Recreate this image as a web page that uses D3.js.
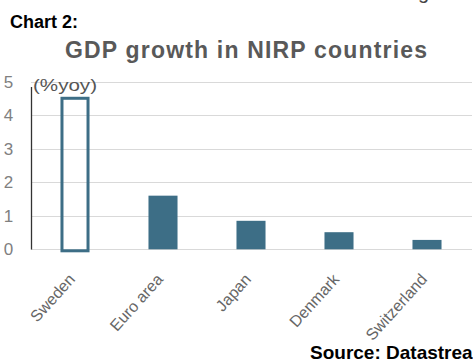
<!DOCTYPE html>
<html>
<head>
<meta charset="utf-8">
<script src="https://cdn.jsdelivr.net/npm/d3@7"></script>
<style>
  body { margin: 0; background: #fff; }
  svg { display: block; font-family: "Liberation Sans", Arial, sans-serif; }
</style>
</head>
<body>
<div id="chart"></div>
<script>

var countries = ["Sweden", "Euro area", "Japan", "Denmark", "Switzerland"];
var growth = [4.55, 1.6, 0.85, 0.51, 0.28];
var outlined = [true, false, false, false, false];
var yTicks = [0, 1, 2, 3, 4, 5];

var width = 473, height = 361;
var barColor = "#3d6e86";

var svg = d3.select("#chart").append("svg")
  .attr("width", width)
  .attr("height", height);

var x = d3.scaleBand()
  .domain(countries)
  .range([31, 471])
  .paddingInner(0.67)
  .paddingOuter(0.335);

var y = d3.scaleLinear()
  .domain([0, 5])
  .range([249.3, 81.7]);

// bits of page around the chart
svg.append("text")
  .attr("x", 418).attr("y", -1.5)
  .style("font-size", "20px")
  .attr("fill", "#444")
  .text("g");

svg.append("text")
  .attr("x", 10).attr("y", 27.5)
  .style("font-size", "18px")
  .style("font-weight", "bold")
  .attr("fill", "#000")
  .text("Chart 2:");

svg.append("text")
  .attr("x", 65).attr("y", 57.5)
  .attr("textLength", 362)
  .attr("lengthAdjust", "spacing")
  .style("font-size", "23px")
  .style("font-weight", "bold")
  .attr("fill", "#595959")
  .text("GDP growth in NIRP countries");

// gridlines
svg.append("g").selectAll("line")
  .data(yTicks)
  .enter().append("line")
  .attr("x1", 31).attr("x2", 472)
  .attr("y1", function(d) { return Math.round(y(d)) + 0.5; })
  .attr("y2", function(d) { return Math.round(y(d)) + 0.5; })
  .attr("stroke", "#d9d9d9")
  .attr("stroke-width", 1);

// y tick labels
svg.append("g").selectAll("text")
  .data(yTicks)
  .enter().append("text")
  .attr("x", 8.5)
  .attr("y", function(d) { return y(d); })
  .attr("dy", "0.36em")
  .attr("text-anchor", "middle")
  .style("font-size", "17px")
  .attr("fill", "#808080")
  .text(function(d) { return d; });

// y axis line
svg.append("line")
  .attr("x1", 31.5).attr("x2", 31.5)
  .attr("y1", 87).attr("y2", 249.5)
  .attr("stroke", "#333")
  .attr("stroke-width", 1.3);

svg.append("text")
  .attr("x", 33).attr("y", 91)
  .attr("textLength", 64)
  .attr("lengthAdjust", "spacingAndGlyphs")
  .style("font-size", "17px")
  .attr("fill", "#555")
  .text("(%yoy)");

// bars
svg.append("g").selectAll("rect")
  .data(countries)
  .enter().append("rect")
  .attr("x", function(d, i) { return outlined[i] ? x(d) + 1.5 : x(d); })
  .attr("y", function(d, i) { return outlined[i] ? y(growth[i]) + 1.5 : y(growth[i]); })
  .attr("width", function(d, i) { return outlined[i] ? x.bandwidth() - 3 : x.bandwidth(); })
  .attr("height", function(d, i) { return y(0) - y(growth[i]); })
  .attr("fill", function(d, i) { return outlined[i] ? "none" : barColor; })
  .attr("stroke", function(d, i) { return outlined[i] ? barColor : "none"; })
  .attr("stroke-width", 3);

// x labels
svg.append("g").selectAll("text")
  .data(countries)
  .enter().append("text")
  .attr("transform", function(d) {
    return "translate(" + (x(d) + x.bandwidth() / 2 + 1) + ",280) rotate(-48)";
  })
  .attr("text-anchor", "end")
  .style("font-size", "16px")
  .attr("fill", "#666")
  .text(function(d) { return d; });

svg.append("text")
  .attr("x", 310).attr("y", 359)
  .style("font-size", "19px")
  .style("font-weight", "bold")
  .attr("fill", "#000")
  .text("Source: Datastream");

</script>
</body>
</html>
